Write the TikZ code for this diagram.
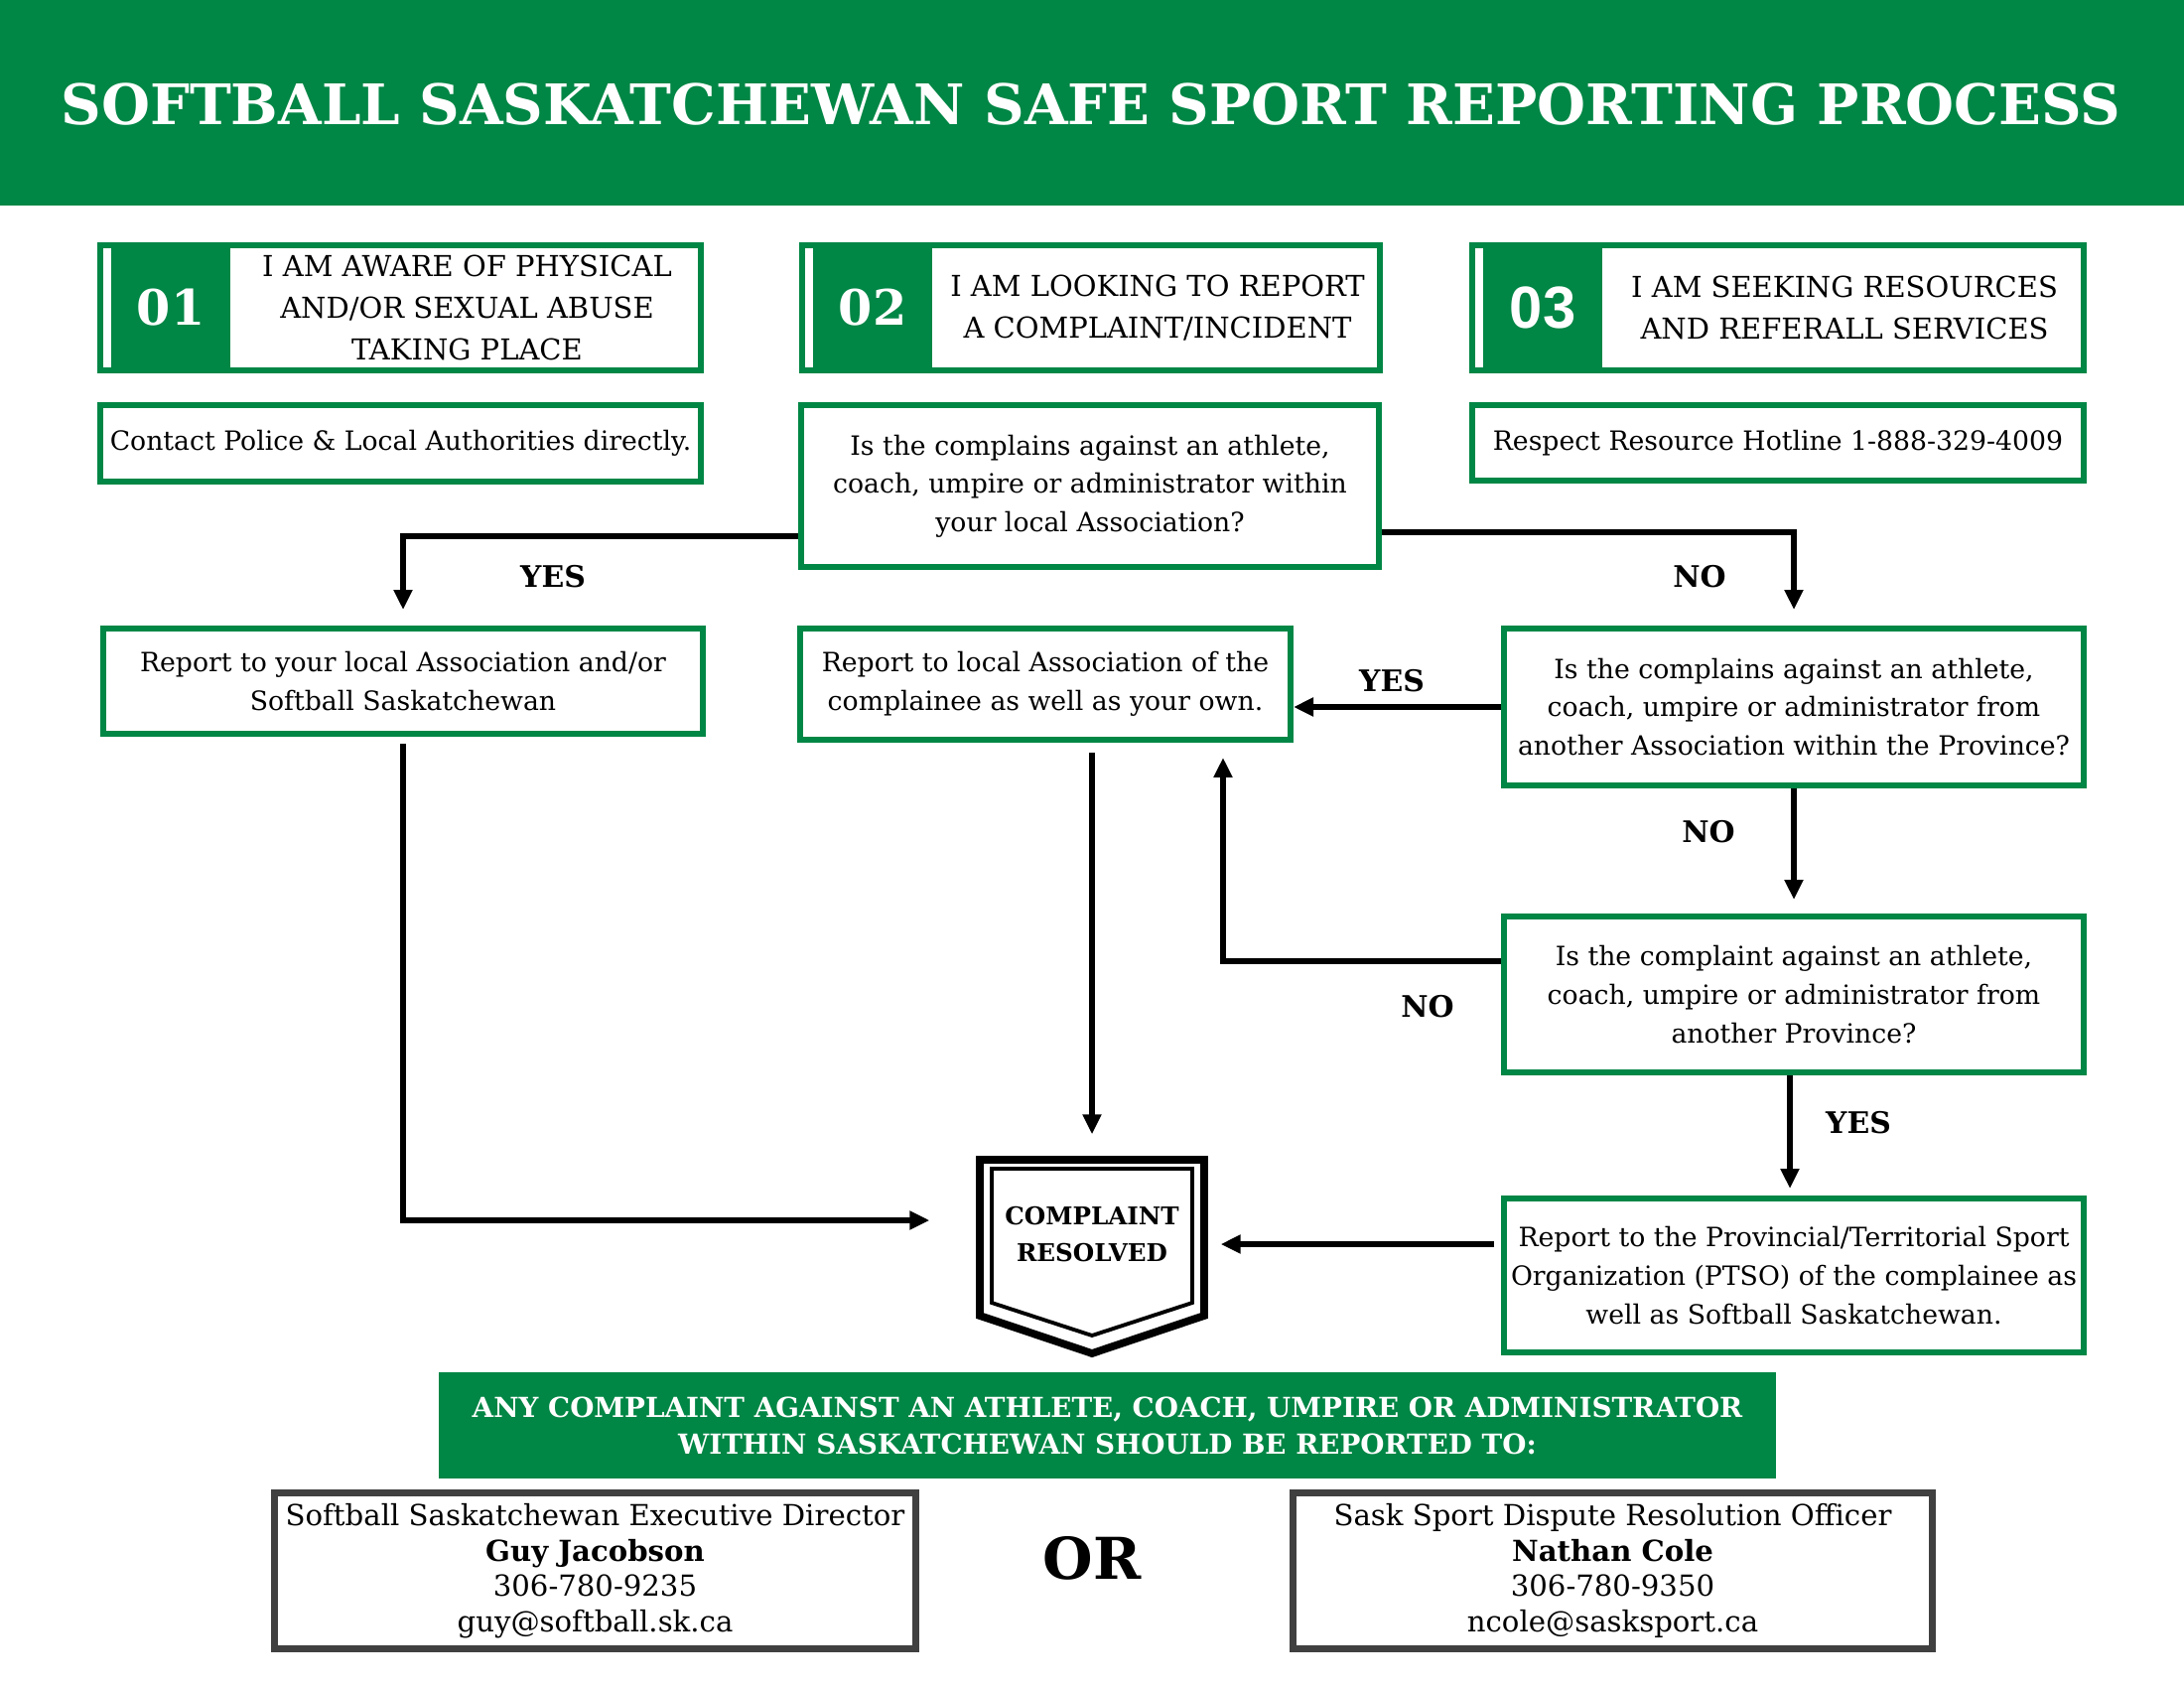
\documentclass[tikz,border=0pt]{standalone}
\usepackage{fontspec}
\setmainfont{DejaVu Serif}
\newfontfamily\numsans{Liberation Sans}
\usetikzlibrary{arrows.meta,calc}
\definecolor{ssgreen}{RGB}{0,134,69}
\definecolor{ssgray}{RGB}{64,64,64}

\begin{document}
\begin{tikzpicture}[
    gbox/.style={draw=ssgreen, line width=1.7pt, align=center, inner sep=0pt, font=\fontsize{7.6}{11}\selectfont},
    kbox/.style={draw=ssgray, line width=2pt, align=center, inner sep=0pt, font=\fontsize{8.3}{10.1}\selectfont},
    lbl/.style={font=\fontsize{8.5}{10}\selectfont\bfseries},
    conn/.style={line width=1.6pt, -{Triangle[length=2mm,width=1.8mm]}},
]
\useasboundingbox (0,0) rectangle (22,-17);

% title band
\fill[ssgreen] (0,0) rectangle (22,-2.07);
\node[text=white, font=\fontsize{16}{20}\selectfont\bfseries] (title) at (10.99,-1.05) {SOFTBALL SASKATCHEWAN SAFE SPORT REPORTING PROCESS};

% the three starting points
\foreach \i/\cx/\w/\num/\txt in {1/4.035/6.05/01/{I AM AWARE OF PHYSICAL\\AND/OR SEXUAL ABUSE\\TAKING PLACE},
    2/10.99/5.82/02/{I AM LOOKING TO REPORT\\A COMPLAINT/INCIDENT},
    3/17.91/6.16/{\numsans\fontsize{17}{17}\selectfont 03}/{I AM SEEKING RESOURCES\\AND REFERALL SERVICES}} {
  \node[gbox, minimum width=\w cm, minimum height=1.26cm] (h\i) at (\cx,-3.10) {};
  \fill[ssgreen] ([xshift=1.4mm]h\i.north west) rectangle ([xshift=13.4mm]h\i.south west);
  \node[text=white, font=\fontsize{14}{14}\selectfont\bfseries] (n\i) at ([xshift=7.4mm]h\i.west) {\num};
  \node[align=center, font=\fontsize{8.25}{12}\selectfont] (t\i) at ($([xshift=13.4mm]h\i.west)!0.5!(h\i.east)$) {\txt};
}

\node[gbox, minimum width=6.05cm, minimum height=0.77cm] (c1) at (4.035,-4.465) {Contact Police \& Local Authorities directly.};
\node[gbox, minimum width=5.82cm, minimum height=1.63cm] (q1) at (10.98,-4.895) {Is the complains against an athlete,\\coach, umpire or administrator within\\your local Association?};
\node[gbox, minimum width=6.16cm, minimum height=0.76cm] (c3) at (17.91,-4.46) {Respect Resource Hotline 1-888-329-4009};

\node[gbox, minimum width=6.04cm, minimum height=1.06cm] (r1) at (4.06,-6.86) {Report to your local Association and/or\\Softball Saskatchewan};
\node[gbox, minimum width=4.94cm, minimum height=1.12cm] (r2) at (10.53,-6.89) {Report to local Association of the\\complainee as well as your own.};
\node[gbox, minimum width=5.84cm, minimum height=1.58cm] (q2) at (18.07,-7.12) {Is the complains against an athlete,\\coach, umpire or administrator from\\another Association within the Province?};
\node[gbox, minimum width=5.84cm, minimum height=1.57cm] (q3) at (18.07,-10.015) {Is the complaint against an athlete,\\coach, umpire or administrator from\\another Province?};
\node[gbox, minimum width=5.84cm, minimum height=1.55cm] (r3) at (18.07,-12.845) {Report to the Provincial/Territorial Sport\\Organization (PTSO) of the complainee as\\well as Softball Saskatchewan.};

% shield
\node[minimum width=2.34cm, minimum height=2.03cm, inner sep=0pt] (res) at (11.0,-12.655) {};
\draw[line width=2.2pt, line join=miter] (9.87,-11.68) -- (12.13,-11.68) -- (12.13,-13.25) -- (11.0,-13.63) -- (9.87,-13.25) -- cycle;
\draw[line width=1.1pt, line join=miter] (9.99,-11.77) -- (12.01,-11.77) -- (12.01,-13.12) -- (11.0,-13.45) -- (9.99,-13.12) -- cycle;
\node[align=center, font=\fontsize{7}{10.5}\selectfont\bfseries] (restxt) at (11.0,-12.43) {COMPLAINT\\RESOLVED};

% connectors
\draw[conn, shorten >=1.6mm] ([yshift=-5.05mm]q1.west) -| (r1.north);
\draw[conn, shorten >=1.6mm] ([yshift=-4.65mm]q1.east) -| (q2.north);
\draw[conn] (q2.west) -- (q2.west -| r2.east);
\draw[conn, shorten >=1.4mm] (q2.south) -- (q3.north);
\draw[conn, shorten >=1.5mm] ([yshift=3.35mm]q3.west) -| ([xshift=-7.1mm]r2.south east);
\draw[conn, shorten >=0.7mm] ([xshift=-0.4mm]q3.south) -- ([xshift=-0.4mm]r3.north);
\draw[conn, shorten <=0.7mm, shorten >=1.2mm] ([yshift=3.15mm]r3.west) -- ([yshift=3.15mm]r3.west -| res.east);
\draw[conn, shorten <=0.7mm, shorten >=4.6mm] (r1.south) |- ([yshift=3.65mm]res.west);
\draw[conn, shorten <=1mm, shorten >=2.1mm] (r2.south -| res.north) -- (res.north);

% branch labels
\node[lbl] (yes1) at (5.57,-5.81) {YES};
\node[lbl] (no1) at (17.12,-5.81) {NO};
\node[lbl] (yes2) at (14.02,-6.86) {YES};
\node[lbl] (no2) at (17.21,-8.38) {NO};
\node[lbl] (no3) at (14.38,-10.14) {NO};
\node[lbl] (yes3) at (18.72,-11.31) {YES};

% where to report
\node[fill=ssgreen, minimum width=13.47cm, minimum height=1.07cm, text=white, align=center, font=\fontsize{7.9}{10.5}\selectfont\bfseries] (banner) at (11.155,-14.355) {ANY COMPLAINT AGAINST AN ATHLETE, COACH, UMPIRE OR ADMINISTRATOR\\WITHIN SASKATCHEWAN SHOULD BE REPORTED TO:};
\node[kbox, minimum width=6.46cm, minimum height=1.57cm] (k1) at (5.995,-15.82) {Softball Saskatchewan Executive Director\\\textbf{Guy Jacobson}\\306-780-9235\\guy@softball.sk.ca};
\node[kbox, minimum width=6.44cm, minimum height=1.57cm] (k2) at (16.245,-15.82) {Sask Sport Dispute Resolution Officer\\\textbf{Nathan Cole}\\306-780-9350\\ncole@sasksport.ca};
\node[font=\fontsize{16.5}{18}\selectfont\bfseries] (or) at (11.0,-15.69) {OR};
\end{tikzpicture}
\end{document}
